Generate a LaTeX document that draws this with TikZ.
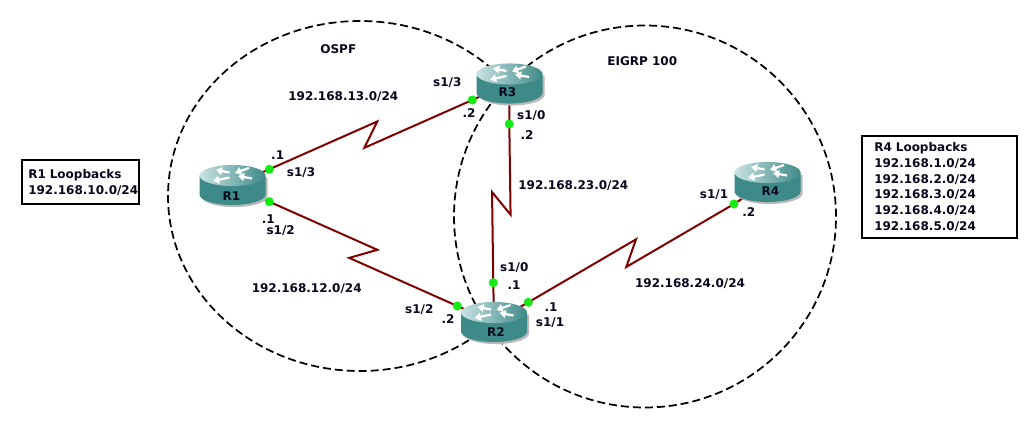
\documentclass[tikz,border=0pt]{standalone}
\usepackage{fontspec}
\setmainfont{DejaVu Sans}
\usetikzlibrary{calc,arrows.meta}
\definecolor{textc}{RGB}{8,8,30}
\definecolor{linkc}{RGB}{128,0,0}
\definecolor{dotc}{RGB}{20,235,20}
\definecolor{rbody}{RGB}{62,138,136}
\definecolor{rtop}{RGB}{200,226,226}
\definecolor{rshadow}{RGB}{185,185,185}
\pgfdeclarelayer{bg}\pgfdeclarelayer{mid}\pgfsetlayers{bg,mid,main}
\tikzset{
  lbl/.style={font=\bfseries\fontsize{9}{11.8}\selectfont, text=textc, inner sep=0pt},
  boxnode/.style={lbl, draw=black, line width=1.5pt, anchor=north west, align=left},
  rtr/.style={minimum width=49.5pt, minimum height=30pt, inner sep=0pt},
  dotnode/.style={circle, fill=dotc, inner sep=0pt, minimum size=6.8pt},
  link/.style={draw=linkc, line width=1.5pt, line join=miter},
  area/.style={draw=black, line width=1.3pt, dash pattern=on 6pt off 3pt},
  rarrow/.style={white, line width=1.7pt, -{Triangle[length=4.6pt,width=6pt]}},
  router/.pic={
    \fill[rshadow] (-31,-7.5) -- (-31,11.5) arc[start angle=180,end angle=360,x radius=24.75pt,y radius=7.9pt] -- (35,-7.5) -- cycle;
    \fill[rbody] (-33,-9.5) -- (-33,9.5) arc[start angle=180,end angle=360,x radius=24.75pt,y radius=7.9pt] -- (33,-9.5) -- cycle;
    \shade[left color=rtop, right color=rbody] (0,-9.5) ellipse[x radius=24.75pt,y radius=7.9pt];
    \draw[rarrow] (-3,-12.5) -- (-16.5,-15);
    \draw[rarrow] (-3,-7.5) -- (-19.5,-4);
    \draw[rarrow] (16.5,-17) -- (2.5,-12);
    \draw[rarrow] (19.5,-6.5) -- (5.5,-9);
  }
}
\begin{document}
\begin{tikzpicture}[x=0.75pt,y=-0.75pt]
\useasboundingbox (0,0) rectangle (1036,428);

% routers
\node[rtr] (R1) at (232.5,185) {};
\node[rtr] (R3) at (509.5,83.5) {};
\node[rtr] (R2) at (494,322) {};
\node[rtr] (R4) at (767.5,182) {};
\pic at (R1.center) {router};
\pic at (R3.center) {router};
\pic at (R2.center) {router};
\pic at (R4.center) {router};
\node[lbl] (R1t) at ($(R1.center)+(-1,11)$) {R1};
\node[lbl] (R3t) at ($(R3.center)+(-2,9)$) {R3};
\node[lbl] (R2t) at ($(R2.center)+(2,10)$) {R2};
\node[lbl] (R4t) at ($(R4.center)+(3,9)$) {R4};

% interface dots
\node[dotnode] (d13a) at (269.3,169.3) {};
\node[dotnode] (d12a) at (269.3,201.7) {};
\node[dotnode] (d13b) at (472.3,100) {};
\node[dotnode] (d23a) at (509.3,124) {};
\node[dotnode] (d23b) at (493.3,282.7) {};
\node[dotnode] (d12b) at (457.3,306) {};
\node[dotnode] (d24a) at (528.3,302.3) {};
\node[dotnode] (d24b) at (734,204) {};

% area labels
\node[lbl] (ospf) at (338.3,49.3) {OSPF};
\node[lbl] (eigrp) at (642.3,61.3) {EIGRP 100};

% network labels
\node[lbl] (n13) at (343.3,96.7) {192.168.13.0/24};
\node[lbl] (n12) at (306.7,288.3) {192.168.12.0/24};
\node[lbl] (n23) at (573.3,185.3) {192.168.23.0/24};
\node[lbl] (n24) at (690,283.3) {192.168.24.0/24};

% interface labels
\node[lbl] (a1) at (277.7,155.3) {.1};
\node[lbl] (a2) at (301,172.7) {s1/3};
\node[lbl] (a3) at (268.3,218.7) {.1};
\node[lbl] (a4) at (280.7,230.7) {s1/2};
\node[lbl] (a5) at (447.3,82.3) {s1/3};
\node[lbl] (a6) at (469,112.7) {.2};
\node[lbl] (a7) at (531.3,115.3) {s1/0};
\node[lbl] (a8) at (527,134.7) {.2};
\node[lbl] (a9) at (514.3,267.3) {s1/0};
\node[lbl] (a10) at (514,285) {.1};
\node[lbl] (a11) at (419.3,309.3) {s1/2};
\node[lbl] (a12) at (448,319) {.2};
\node[lbl] (a13) at (551,307.3) {.1};
\node[lbl] (a14) at (550,322.7) {s1/1};
\node[lbl] (a15) at (714,194.3) {s1/1};
\node[lbl] (a16) at (748.7,212) {.2};

% loopback boxes
\node[boxnode, minimum width=87.5pt, minimum height=33pt, inner xsep=4.7pt, text width=78.1pt] (lb1) at (21,159.3) {R1 Loopbacks\\192.168.10.0/24};
\node[boxnode, minimum width=116pt, minimum height=77pt, inner xsep=9.2pt, text width=97.6pt] (lb4) at (861,134.7) {R4 Loopbacks\\192.168.1.0/24\\192.168.2.0/24\\192.168.3.0/24\\192.168.4.0/24\\192.168.5.0/24};

% serial links
\begin{pgfonlayer}{mid}
\draw[link] (R1.center) -- (d13a.center) -- ($(d13a.center)!.5!(d13b.center)!11pt!45:(d13b.center)$) -- ($(d13a.center)!.5!(d13b.center)!11pt!225:(d13b.center)$) -- (d13b.center) -- (R3.center);
\draw[link] (R1.center) -- (d12a.center) -- ($(d12a.center)!.5!(d12b.center)!11pt!45:(d12b.center)$) -- ($(d12a.center)!.5!(d12b.center)!11pt!225:(d12b.center)$) -- (d12b.center) -- (R2.center);
\draw[link] (R3.center) -- (d23a.center) -- ($(d23a.center)!.5!(d23b.center)!11pt!45:(d23b.center)$) -- ($(d23a.center)!.5!(d23b.center)!11pt!225:(d23b.center)$) -- (d23b.center) -- (R2.center);
\draw[link] (R2.center) -- (d24a.center) -- ($(d24a.center)!.5!(d24b.center)!11pt!45:(d24b.center)$) -- ($(d24a.center)!.5!(d24b.center)!11pt!225:(d24b.center)$) -- (d24b.center) -- (R4.center);
\end{pgfonlayer}

% routing domains
\begin{pgfonlayer}{bg}
\fill[white] (0,0) rectangle (1036,428);
\draw[area] (360,196) ellipse[x radius=144pt, y radius=131.25pt];
\draw[area, fill=white] (645,216.5) circle[radius=143.25pt];
\end{pgfonlayer}
\end{tikzpicture}
\end{document}
